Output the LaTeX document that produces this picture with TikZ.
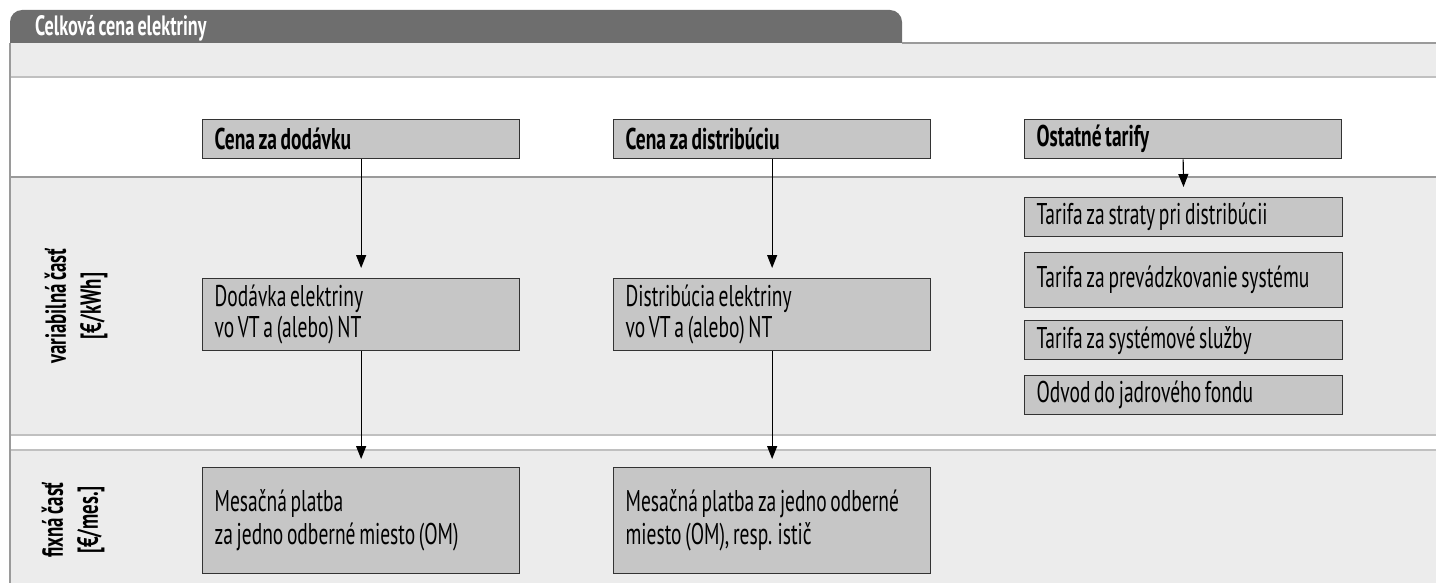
\documentclass[tikz,border=0pt]{standalone}
\usepackage{fontspec}
\setmainfont[FakeStretch=0.65, WordSpace=0.7]{PT Sans}
\usetikzlibrary{arrows.meta}
\definecolor{tabgray}{HTML}{6E6E6E}
\definecolor{bandgray}{HTML}{ECECEC}
\definecolor{boxfill}{HTML}{C6C6C6}
\definecolor{rulegray}{HTML}{9A9A9A}
\definecolor{rulelight}{HTML}{C0C0C0}
\definecolor{boxline}{HTML}{333333}
\begin{document}
\begin{tikzpicture}[x=1pt,y=-1pt,
  cbox/.style={draw=boxline, line width=1.3pt, fill=boxfill, anchor=north west,
    inner xsep=12pt, inner ysep=0pt, align=flush left, text width=#1-24pt,
    font=\fontsize{30}{31}\selectfont},
  cbox/.default=317pt,
  headbox/.style={cbox, font=\fontsize{30}{31}\selectfont\bfseries, minimum height=39pt},
  sidelabel/.style={rotate=90, align=flush center, font=\fontsize{29}{35}\selectfont\bfseries},
  flow/.style={-{Triangle[length=13pt,width=10pt]}, line width=1.1pt, black},
]
\useasboundingbox (0,0) rectangle (1436,583);
% header tab
\fill[tabgray, rounded corners=12pt] (10,10) rectangle (902,60);
% panel bands
\fill[bandgray] (10,43) rectangle (1436,77);
\fill[white] (10,77) rectangle (1436,177);
\fill[bandgray] (10,177) rectangle (1436,435);
\fill[white] (10,435) rectangle (1436,450);
\fill[bandgray] (10,450) rectangle (1436,583);
% rules
\draw[rulegray, line width=1.2pt] (902,43) -- (1436,43);
\draw[rulelight, line width=1.5pt] (10,77) -- (1436,77);
\draw[rulegray, line width=1.2pt] (10,177) -- (1436,177);
\draw[rulelight, line width=2pt] (10,435) -- (1436,435);
\draw[rulelight, line width=2pt] (10,450) -- (1436,450);
\draw[rulegray, line width=1.2pt] (10,43) -- (10,583);
% title
\node[anchor=west, text=white, font=\fontsize{28}{30}\selectfont\bfseries, inner sep=0pt] (title) at (35,28) {Celková cena elektriny};
% side labels
\node[sidelabel] (var) at (76,306) {variabilná časť\\{}[€/kWh]};
\node[sidelabel] (fix) at (73,520) {fixná časť\\{}[€/mes.]};
% column heads
\node[headbox] (h1) at (202,119) {Cena za dodávku};
\node[headbox] (h2) at (613,119) {Cena za distribúciu};
\node[headbox={318pt}] (h3) at (1024,119) {Ostatné tarify};
% variable part
\node[cbox, minimum height=72pt] (d1) at (202,278) {Dodávka elektriny\\vo VT a (alebo) NT};
\node[cbox, minimum height=72pt] (d2) at (613,278) {Distribúcia elektriny\\vo VT a (alebo) NT};
\node[cbox={318pt}, minimum height=39pt] (t1) at (1024,197) {Tarifa za straty pri distribúcii};
\node[cbox={318pt}, minimum height=55pt] (t2) at (1024,252) {Tarifa za prevádzkovanie systému};
\node[cbox={318pt}, minimum height=39pt] (t3) at (1024,320) {Tarifa za systémové služby};
\node[cbox={318pt}, minimum height=39pt] (t4) at (1024,375) {Odvod do jadrového fondu};
% fixed part
\node[cbox, minimum height=106pt, font=\fontsize{30}{33}\selectfont] (m1) at (202,467) {Mesačná platba\\za jedno odberné miesto (OM)};
\node[cbox, minimum height=106pt, font=\fontsize{30}{33}\selectfont] (m2) at (613,467) {Mesačná platba za jedno odberné\\miesto (OM), resp. istič};
% connectors
\draw[flow, shorten >=10pt] (h1.south) -- (d1.north);
\draw[flow, shorten >=8pt] (d1.south) -- (m1.north);
\draw[flow, shorten >=10pt] (h2.south) -- (d2.north);
\draw[flow, shorten >=8pt] (d2.south) -- (m2.north);
\draw[flow, shorten >=10pt] (h3.south) -- (t1.north);
\end{tikzpicture}
\end{document}
